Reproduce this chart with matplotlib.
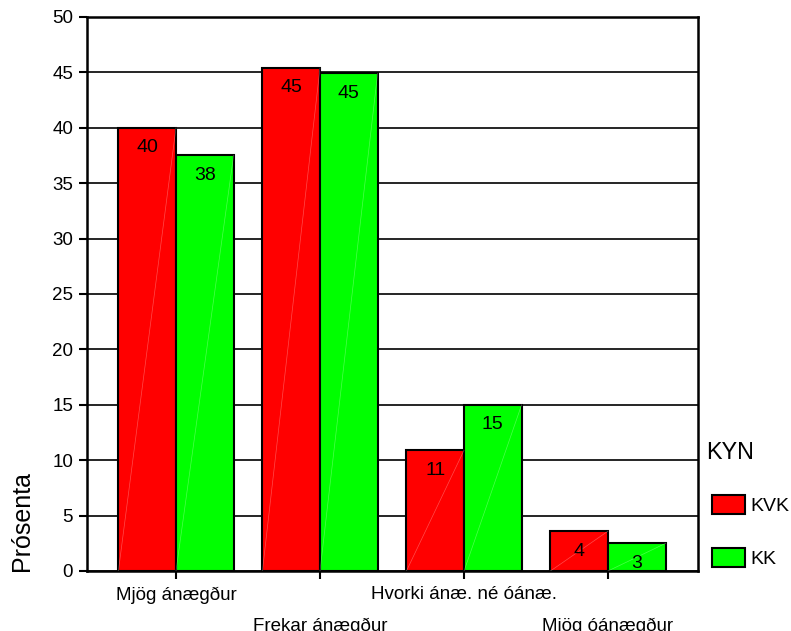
import matplotlib
matplotlib.use("Agg")
import matplotlib.pyplot as plt
import numpy as np
from matplotlib.transforms import ScaledTranslation
from matplotlib.patches import Patch

categories = ["Mjög ánægður", "Frekar ánægður", "Hvorki ánæ. né óánæ.", "Mjög óánægður"]
kvk = [40.0, 45.4, 10.9, 3.6]
kk = [37.5, 44.9, 15.0, 2.5]
kvk_labels = ["40", "45", "11", "4"]
kk_labels = ["38", "45", "15", "3"]
series_names = ["KVK", "KK"]
legend_title = "KYN"
y_label = "Prósenta"
y_ticks = [0, 5, 10, 15, 20, 25, 30, 35, 40, 45, 50]

plt.rcParams['font.family'] = ['Liberation Sans', 'DejaVu Sans']

fig = plt.figure(figsize=(7.91, 6.31), dpi=100)
ax = fig.add_axes([0.110, 0.0951, 0.7725, 0.878])

x = np.arange(len(categories))
w = 0.40
red = "#FF0000"
green = "#00FF00"

b1 = ax.bar(x - w / 2, kvk, w, color=red, edgecolor="black", linewidth=1.5, zorder=3)
b2 = ax.bar(x + w / 2, kk, w, color=green, edgecolor="black", linewidth=1.5, zorder=3)

# faint diagonal artefact lines
for bars in (b1, b2):
    for p in bars:
        x0, y0 = p.get_x(), p.get_y()
        ax.plot([x0, x0 + p.get_width()], [y0, y0 + p.get_height()],
                color="white", lw=0.5, alpha=0.3, zorder=4)

for bars, labs in ((b1, kvk_labels), (b2, kk_labels)):
    for p, t in zip(bars, labs):
        ax.annotate(t, (p.get_x() + p.get_width() / 2, p.get_height()),
                    xytext=(0, -20), textcoords="offset pixels",
                    ha="center", va="center", fontsize=14, zorder=5)

ax.set_xlim(-0.618, 3.625)
ax.set_ylim(0, 50)
ax.set_yticks(y_ticks)
ax.yaxis.grid(True, color="black", linewidth=1.2, zorder=0)
ax.set_axisbelow(True)
for s in ax.spines.values():
    s.set_linewidth(1.8)
ax.tick_params(axis="y", labelsize=13.5, width=1.5, length=6, pad=4)
ax.tick_params(axis="x", labelsize=13.5, width=1.5, length=6, pad=5)

ax.set_xticks(x)
ax.set_xticklabels(categories)
for i, lab in enumerate(ax.get_xticklabels()):
    if i % 2 == 1:
        lab.set_transform(lab.get_transform() + ScaledTranslation(0, -31 / 100, fig.dpi_scale_trans))

ax.set_ylabel(y_label, fontsize=18)
ax.yaxis.set_label_coords(-0.087, 0.09)

fig.text(0.8925, 0.2835, legend_title, fontsize=16.8, ha="left", va="center")

handles = [Patch(facecolor=red, edgecolor="black", linewidth=1.5),
           Patch(facecolor=green, edgecolor="black", linewidth=1.5)]
leg = fig.legend(handles, series_names, loc="upper left",
                 bbox_to_anchor=(0.900, 0.216), frameon=False, fontsize=14,
                 handlelength=1.7, handleheight=1.13,
                 labelspacing=1.7, handletextpad=0.3, borderpad=0, borderaxespad=0)

fig.savefig("out.png", dpi=100)
